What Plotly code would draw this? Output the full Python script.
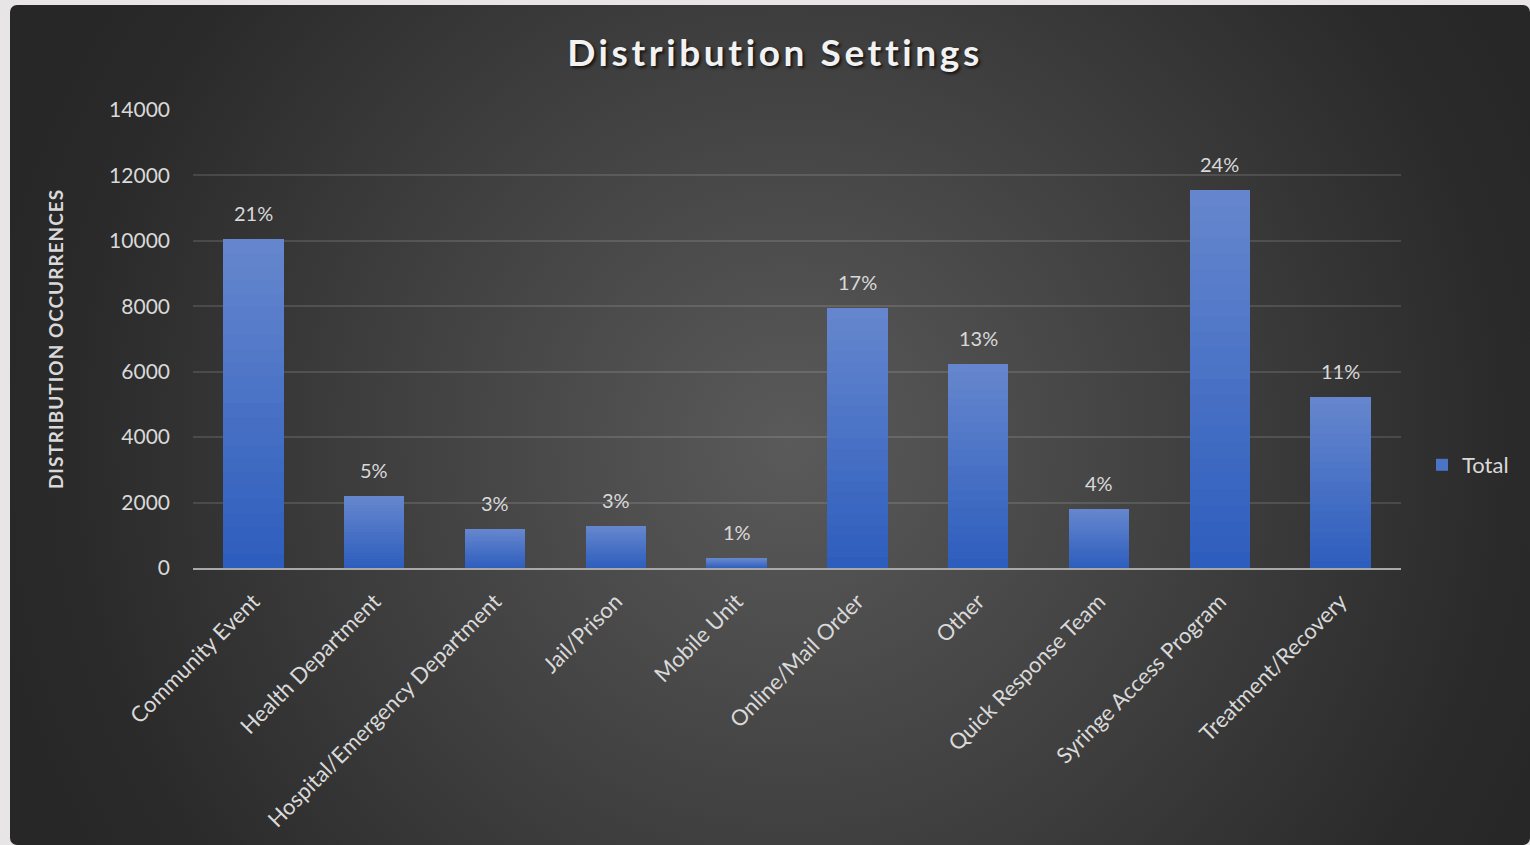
import base64
import plotly.graph_objects as go

categories = ["Community Event", "Health Department", "Hospital/Emergency Department",
              "Jail/Prison", "Mobile Unit", "Online/Mail Order", "Other",
              "Quick Response Team", "Syringe Access Program", "Treatment/Recovery"]
values = [10060, 2200, 1200, 1290, 300, 7950, 6240, 1800, 11560, 5230]
pct_labels = ["21%", "5%", "3%", "3%", "1%", "17%", "13%", "4%", "24%", "11%"]
y_ticks = [0, 2000, 4000, 6000, 8000, 10000, 12000, 14000]

W, H = 1530, 845
L, R, T, B = 193, 129, 110, 277
PW, PH = W - L - R, H - T - B

TXT = "#d9d9d9"
FONT = "Lato, Carlito, Calibri, sans-serif"

# background panel with radial gradient
svg = ('<svg xmlns="http://www.w3.org/2000/svg" width="1520" height="840" viewBox="0 0 1520 840" '
       'preserveAspectRatio="none"><defs><radialGradient id="g" cx="780" cy="440" r="820" '
       'gradientUnits="userSpaceOnUse"><stop offset="0" stop-color="#5a5a5a"/>'
       '<stop offset="0.5" stop-color="#3f3f3f"/><stop offset="0.88" stop-color="#2a2a2a"/>'
       '<stop offset="1" stop-color="#272727"/></radialGradient></defs>'
       '<rect x="0" y="0" width="1520" height="840" rx="7" fill="url(#g)"/></svg>')
src = "data:image/svg+xml;base64," + base64.b64encode(svg.encode()).decode()


def lerp(c1, c2, t):
    a = [int(c1[i:i + 2], 16) for i in (1, 3, 5)]
    b = [int(c2[i:i + 2], 16) for i in (1, 3, 5)]
    return "#" + "".join(f"{round(a[j] + (b[j] - a[j]) * t):02x}" for j in range(3))


fig = go.Figure()
N = 24
bottom_c, top_c = "#2d5dbd", "#6687ce"
for k in range(N):
    fig.add_trace(go.Bar(
        x=categories, y=[v / N for v in values],
        marker=dict(color=lerp(bottom_c, top_c, (k + 0.5) / N), line=dict(width=0)),
        name="Total", legendgroup="total", showlegend=(k == N // 2),
        hoverinfo="skip"))

for c, v, p in zip(categories, values, pct_labels):
    fig.add_annotation(x=c, y=v, text=p, showarrow=False, yanchor="middle", yshift=26,
                       font=dict(family=FONT, size=20, color=TXT))

fig.add_layout_image(dict(source=src, xref="paper", yref="paper",
                          x=(10 - L) / PW, y=(PH + T - 5) / PH,
                          sizex=1520 / PW, sizey=840 / PH,
                          xanchor="left", yanchor="top", sizing="stretch", layer="below"))

fig.update_layout(
    width=W, height=H,
    margin=dict(l=L, r=R, t=T, b=B),
    paper_bgcolor="#e7e5e5", plot_bgcolor="rgba(0,0,0,0)",
    barmode="stack", bargap=0.5,
    title=dict(text='<span style="letter-spacing:3.6px"><b>Distribution Settings</b></span>',
               xref="container", yref="container",
               x=775 / W, y=1 - 53 / H, xanchor="center", yanchor="middle",
               font=dict(family=FONT, size=37, color="#f2f2f2",
                         shadow="2px 2px 3px rgba(0,0,0,0.7)")),
    xaxis=dict(tickangle=-45, tickfont=dict(family=FONT, size=22, color=TXT),
               showline=True, linecolor="#a9a9a9", linewidth=2, showgrid=False,
               ticks="", ticklabelstandoff=10, fixedrange=True),
    yaxis=dict(range=[0, 14000], tickvals=y_ticks, tickformat="d",
               tickfont=dict(family=FONT, size=21, color=TXT),
               gridcolor="rgba(255,255,255,0.12)", gridwidth=1.5, zeroline=False,
               ticks="", ticklabelstandoff=22,
               title=dict(text='<span style="letter-spacing:1px"><b>DISTRIBUTION OCCURRENCES</b></span>',
                          standoff=40,
                          font=dict(family=FONT, size=19, color=TXT))),
    legend=dict(x=(1422 - L) / PW, y=(568 - 465) / PH, xanchor="left", yanchor="middle",
                bgcolor="rgba(0,0,0,0)", font=dict(family=FONT, size=22, color=TXT)),
    showlegend=True,
)

fig.write_html("out.html")
